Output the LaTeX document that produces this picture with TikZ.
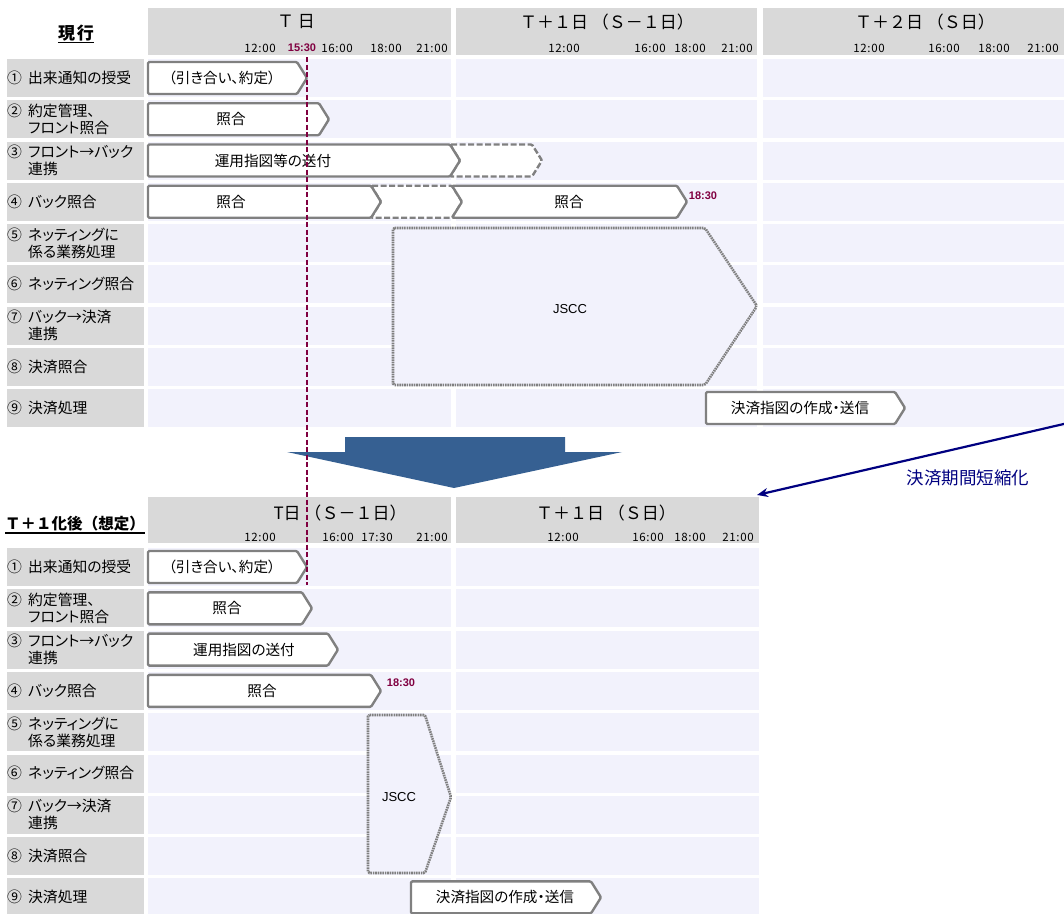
\documentclass[tikz,border=0pt]{standalone}
\usepackage{fontspec}
\setmainfont{Noto Sans CJK JP}[RawFeature=+palt]
\newfontfamily\hdfont{Noto Sans CJK JP}
\newfontfamily\timefont{Noto Sans CJK JP}[LetterSpace=6]
\newfontfamily\numfont{Liberation Sans}
\usetikzlibrary{arrows.meta}
\definecolor{hdgray}{RGB}{217,217,217}
\definecolor{lav}{RGB}{242,242,252}
\definecolor{argray}{RGB}{128,128,128}
\definecolor{maroonc}{RGB}{128,0,64}
\definecolor{bigblue}{RGB}{54,96,146}
\definecolor{navyc}{RGB}{0,0,128}
\newcommand\procarrow[7]{% style, name, left x, tip x, row top, text x, text
  \draw[#1] (#3,#5+3) -- ({#4-10},#5+3) -- (#4,#5+19) -- ({#4-10},#5+35) -- (#3,#5+35) -- cycle;
  \node[atext] (#2) at (#6,#5+19) {#7};}
\newcommand\chevarrow[4]{% style, left x, tip x, row top
  \draw[#1] (#2,#4+3) -- ({#3-10},#4+3) -- (#3,#4+19) -- ({#3-10},#4+35) -- (#2,#4+35) -- ({#2+10},#4+19) -- cycle;}
\newcommand\rowlabel[4]{% name, y center, number, text
  \node[lbl] (#1) at (7,#2) {\makebox[21pt][l]{#3}#4};}
\begin{document}
\begin{tikzpicture}[x=1pt,y=-1pt,
  arr/.style={draw=argray, line width=2.4pt, fill=white, rounded corners=1.2pt, line join=round},
  dasharr/.style={arr, dash pattern=on 6pt off 2.5pt},
  jscc/.style={draw=argray, line width=2.6pt, fill=lav, dash pattern=on 1.6pt off 0.8pt, rounded corners=1.5pt},
  atext/.style={inner sep=0pt, font=\fontsize{14.6}{16}\selectfont},
  lbl/.style={anchor=west, inner sep=0pt, align=left, font=\fontsize{14.8}{17}\selectfont},
  hd/.style={inner sep=0pt, font=\hdfont\fontsize{17}{20}\selectfont},
  ttl/.style={inner sep=0pt, font=\hdfont\bfseries\fontsize{17}{20}\selectfont},
  tm/.style={inner sep=0pt, font=\timefont\fontsize{11.5}{13}\selectfont},
  tmb/.style={inner sep=0pt, text=maroonc, font=\numfont\bfseries\fontsize{11}{13}\selectfont},
  jtext/.style={inner sep=0pt, font=\numfont\fontsize{13}{15}\selectfont}]
\useasboundingbox (0,0) rectangle (1064,913);
% ---------- top grid ----------
\fill[hdgray] (148,8) rectangle (451,55);
\fill[hdgray] (456,8) rectangle (757,55);
\fill[hdgray] (763,8) rectangle (1064,55);
\foreach \i in {0,...,8}{
  \fill[hdgray] (7,{59+41.25*\i}) rectangle (144,{97+41.25*\i});
  \fill[lav] (148,{59+41.25*\i}) rectangle (451,{97+41.25*\i});
  \fill[lav] (456,{59+41.25*\i}) rectangle (757,{97+41.25*\i});
  \fill[lav] (763,{59+41.25*\i}) rectangle (1064,{97+41.25*\i});
}
% ---------- bottom grid ----------
\fill[hdgray] (148,497) rectangle (451,543);
\fill[hdgray] (456,497) rectangle (759,543);
\foreach \i in {0,...,8}{
  \fill[hdgray] (7,{548+41.3*\i}) rectangle (144,{586+41.3*\i});
  \fill[lav] (148,{548+41.3*\i}) rectangle (451,{586+41.3*\i});
  \fill[lav] (456,{548+41.3*\i}) rectangle (759,{586+41.3*\i});
}
% ---------- titles ----------
\node[ttl] (t1) at (76,33) {現\hspace{2pt}行};
\draw[line width=1.3pt] ([yshift=-3pt]t1.base west) -- ([yshift=-3pt]t1.base east);
\node[ttl, font=\hdfont\bfseries\fontsize{15.5}{18}\selectfont] (t2) at (75,524) {Ｔ＋１化後（想定）};
\draw[line width=1.3pt] ([yshift=-3pt]t2.base west) -- ([yshift=-3pt]t2.base east);
% ---------- headers ----------
\node[hd] (h1) at (296,22) {Ｔ 日};
\node[hd] (h2) at (607,22) {Ｔ＋１日 （Ｓ－１日）};
\node[hd] (h3) at (925,22) {Ｔ＋２日 （Ｓ日）};
\node[hd] (h4) at (340,513) {T日 （Ｓ－１日）};
\node[hd] (h5) at (606,513) {Ｔ＋１日 （Ｓ日）};
% times top
\node[tm] (ta1) at (260,48) {12:00};
\node[tmb] (ta2) at (302,48) {15:30};
\node[tm] (ta3) at (337,48) {16:00};
\node[tm] (ta4) at (386,48) {18:00};
\node[tm] (ta5) at (432,48) {21:00};
\node[tm] (tb1) at (564,48) {12:00};
\node[tm] (tb2) at (650,48) {16:00};
\node[tm] (tb3) at (690,48) {18:00};
\node[tm] (tb4) at (737,48) {21:00};
\node[tm] (tc1) at (869,48) {12:00};
\node[tm] (tc2) at (944,48) {16:00};
\node[tm] (tc3) at (994,48) {18:00};
\node[tm] (tc4) at (1043,48) {21:00};
% times bottom
\node[tm] (td1) at (260,537) {12:00};
\node[tm] (td2) at (338,537) {16:00};
\node[tm] (td3) at (377,537) {17:30};
\node[tm] (td4) at (432,537) {21:00};
\node[tm] (te1) at (563,537) {12:00};
\node[tm] (te2) at (648,537) {16:00};
\node[tm] (te3) at (690,537) {18:00};
\node[tm] (te4) at (738,537) {21:00};
% ---------- row labels ----------
\foreach \yy/\nm in {0/lt,489/lb}{
  \rowlabel{\nm1}{78+\yy}{①}{出来通知の授受}
  \rowlabel{\nm2}{119.25+\yy}{②}{約定管理、\\\hspace*{21pt}フロント照合}
  \rowlabel{\nm3}{160.5+\yy}{③}{フロント→バック\\\hspace*{21pt}連携}
  \rowlabel{\nm4}{201.75+\yy}{④}{バック照合}
  \rowlabel{\nm5}{243+\yy}{⑤}{ネッティングに\\\hspace*{21pt}係る業務処理}
  \rowlabel{\nm6}{284.25+\yy}{⑥}{ネッティング照合}
  \rowlabel{\nm7}{325.5+\yy}{⑦}{バック→決済\\\hspace*{21pt}連携}
  \rowlabel{\nm8}{366.75+\yy}{⑧}{決済照合}
  \rowlabel{\nm9}{408+\yy}{⑨}{決済処理}
}
% ---------- top process arrows ----------
\procarrow{arr}{a1}{148}{307}{59}{222}{（引き合い、約定）}
\procarrow{arr}{a2}{148}{329}{100.25}{231}{照合}
\chevarrow{dasharr}{450}{542}{141.5}
\procarrow{arr}{a3}{148}{460}{141.5}{273}{運用指図等の送付}
\chevarrow{dasharr}{371}{462}{182.75}
\procarrow{arr}{a4}{148}{381}{182.75}{231}{照合}
\draw[arr] (452,185.75) -- (677,185.75) -- (687,201.75) -- (677,217.75) -- (452,217.75) -- (462,201.75) -- cycle;
\node[atext] (a5) at (569,201.75) {照合};
\node[tmb] (t1830a) at (703,196) {18:30};
\procarrow{arr}{a6}{706}{905}{389}{800}{決済指図の作成・送信}
% JSCC top
\draw[jscc] (393,228) -- (705,228) -- (757,306) -- (705,385) -- (393,385) -- cycle;
\node[jtext] (j1) at (570,309) {JSCC};
% ---------- bottom process arrows ----------
\procarrow{arr}{b1}{148}{307}{548}{222}{（引き合い、約定）}
\procarrow{arr}{b2}{148}{312}{589.3}{227}{照合}
\procarrow{arr}{b3}{148}{338}{630.6}{244}{運用指図の送付}
\procarrow{arr}{b4}{148}{381}{671.9}{262}{照合}
\node[tmb] (t1830b) at (401,683) {18:30};
\draw[jscc] (368,715) -- (425,715) -- (451,797) -- (425,873) -- (368,873) -- cycle;
\node[jtext] (j2) at (399,797) {JSCC};
\procarrow{arr}{b9}{411}{601}{878.4}{505}{決済指図の作成・送信}
% ---------- big down arrow ----------
\fill[bigblue] (345,437) -- (565,437) -- (565,452) -- (622,452) -- (454,488) -- (287,452) -- (345,452) -- cycle;
% ---------- 15:30 line ----------
\coordinate (m1) at (307,57);
\coordinate (m2) at (307,585);
\draw[maroonc, line width=2pt, dash pattern=on 5pt off 2.5pt] (m1) -- (m2);
% ---------- navy arrow ----------
\coordinate (ns) at (1068,423);
\coordinate (ne) at (757,495);
\draw[navyc, line width=2.2pt, -{Stealth[length=11pt,width=9pt]}] (ns) -- (ne);
\node[inner sep=0pt, text=navyc, font=\hdfont\fontsize{17.5}{19}\selectfont] (short) at (968,478) {決済期間短縮化};
\end{tikzpicture}
\end{document}
